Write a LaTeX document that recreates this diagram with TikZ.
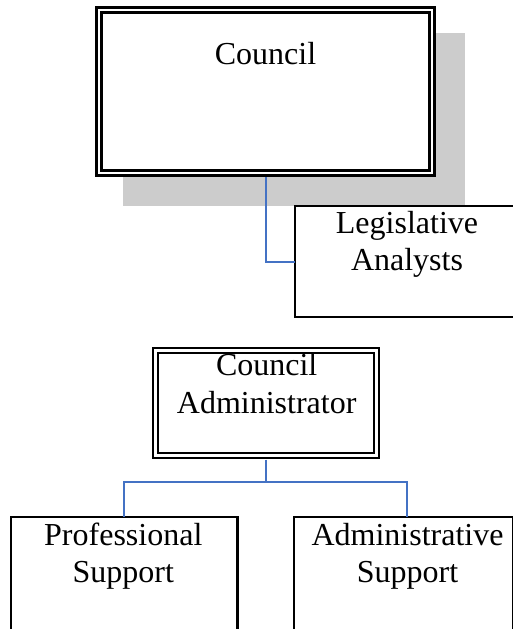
\documentclass[tikz,border=0pt]{standalone}
\usepackage{fontspec}
\setmainfont{Liberation Serif}
\definecolor{linkblue}{HTML}{4472C4}
\definecolor{shadowgray}{HTML}{CCCCCC}
\begin{document}
\begin{tikzpicture}[x=1pt,y=-1pt,
  plainbox/.style={draw=black,line width=2.4pt},
  doublebox/.style={draw=black,line width=2.6pt,double=white,double distance=2.6pt},
  caption/.style={font=\fontsize{32}{37.5}\selectfont,align=center,inner sep=0pt,anchor=base},
  link/.style={draw=linkblue,line width=2pt}]
\useasboundingbox (0,0) rectangle (513,629);
\clip (0,0) rectangle (513,629);
\fill[white] (0,0) rectangle (513,629);

% shadow behind the council box
\fill[shadowgray] (123,33) rectangle (465,206);

% boxes
\draw[doublebox,fill=white] (99,10) rectangle (432,173);
\coordinate (councilS) at (265.8,177);
\draw[plainbox,fill=white] (294.7,206) rectangle (530,317);
\coordinate (legisW) at (294.7,261.5);
\draw[doublebox,fill=white] (155.5,350.5) rectangle (376.5,455.5);
\coordinate (adminS) at (265.5,459.5);
\draw[plainbox] (10.7,516.7) rectangle (237.5,640);
\draw[plainbox] (294,516.7) rectangle (513.6,640);
\coordinate (profN) at (124,516.7);
\coordinate (admsN) at (407.3,516.7);

% texts (base anchor sits on the last line)
\node[caption] (council) at (265.5,64.5) {Council};
\node[caption] (legis) at (407,270.5) {Legislative\\Analysts};
\node[caption] (admin) at (266.7,413) {Council\\Administrator};
\node[caption] (prof) at (123.3,582.5) {Professional\\Support};
\node[caption] (adms) at (407.5,582.5) {Administrative\\Support};

% connectors
\draw[link] (councilS) |- (legisW);
\draw[link] (adminS) -- (265.5,482.3) coordinate (fork);
\draw[link] (profN) |- (fork) -| (admsN);
\end{tikzpicture}
\end{document}
